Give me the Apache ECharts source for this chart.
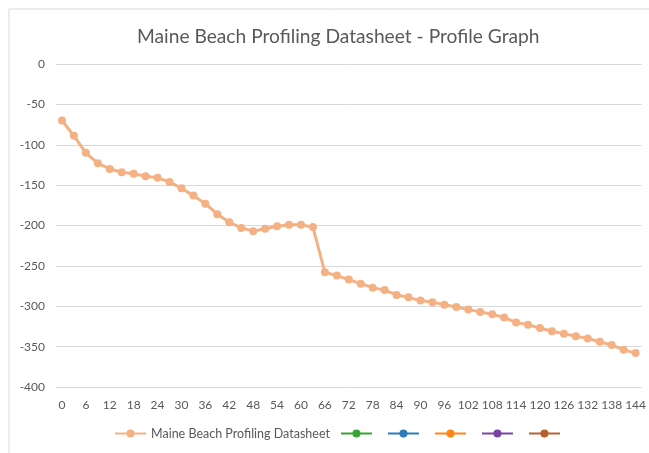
<!DOCTYPE html>
<html>
<head>
<meta charset="utf-8">
<script src="https://cdn.jsdelivr.net/npm/echarts@6/dist/echarts.min.js"></script>
<style>
  html, body { margin: 0; padding: 0; background: #fff; }
  #chart { width: 649px; height: 453px; }
</style>
</head>
<body>
<div id="chart"></div>
<script>
// distance along the profile (every 3 units)
const distances = [0, 3, 6, 9, 12, 15, 18, 21, 24, 27, 30, 33, 36, 39, 42, 45, 48, 51, 54, 57, 60, 63,
  66, 69, 72, 75, 78, 81, 84, 87, 90, 93, 96, 99, 102, 105, 108, 111, 114, 117, 120, 123, 126, 129,
  132, 135, 138, 141, 144]
// elevation readings
const elevation = [-70, -89, -110, -123, -130, -134, -136, -139, -141, -146, -154, -163, -173, -186,
  -196, -203, -207, -204, -201, -199, -199, -202,
  -258, -262, -267, -272, -277, -280, -286, -289, -293, -295, -298, -301, -304, -307, -310, -314,
  -320, -323, -327, -331, -334, -337, -340, -344, -348, -354, -358]
const yTicks = [0, -50, -100, -150, -200, -250, -300, -350, -400]
const mainName = 'Maine Beach Profiling Datasheet'
// empty series from the sheet, only visible in the legend
const emptyColors = ['#3aa335', '#2b7bba', '#ff8517', '#7b42a8', '#b5602f']

const chart = echarts.init(document.getElementById('chart'))
const textColor = '#595959'
const font = 'Lato, "Liberation Sans", sans-serif'

const emptySeries = emptyColors.map((c, i) => ({
  name: '\u200b'.repeat(i + 1),
  type: 'line',
  data: distances.map(() => null),
  symbol: 'circle',
  symbolSize: 8,
  itemStyle: { color: c },
  lineStyle: { color: c, width: 3 }
}))

const option = {
  animation: false,
  textStyle: { fontFamily: font },
  graphic: [
    {
      type: 'rect',
      shape: { x: 9, y: 9, width: 700, height: 500 },
      style: { fill: 'none', stroke: '#d9d9d9', lineWidth: 1 }
    }
  ],
  title: {
    text: 'Maine Beach Profiling Datasheet - Profile Graph',
    left: 132,
    top: 22,
    textStyle: { color: textColor, fontSize: 19.2, fontWeight: 'normal', fontFamily: font }
  },
  legend: {
    bottom: 8,
    left: 109,
    itemWidth: 31,
    itemHeight: 10,
    itemGap: 10,
    textStyle: { color: textColor, fontSize: 12.5, fontFamily: font },
    data: [mainName].concat(emptySeries.map(s => s.name))
  },
  grid: { left: 56, right: 6, top: 64, bottom: 66 },
  xAxis: {
    type: 'category',
    data: distances,
    boundaryGap: true,
    axisLine: { show: false },
    axisTick: { show: false },
    axisLabel: { interval: 1, color: textColor, fontSize: 12, margin: 12, fontFamily: font }
  },
  yAxis: {
    type: 'value',
    min: yTicks[yTicks.length - 1],
    max: yTicks[0],
    interval: 50,
    axisLine: { show: false },
    axisTick: { show: false },
    axisLabel: { color: textColor, fontSize: 12, margin: 11, fontFamily: font },
    splitLine: { lineStyle: { color: '#d9d9d9', width: 1 } }
  },
  series: [
    {
      name: mainName,
      type: 'line',
      data: elevation,
      symbol: 'circle',
      symbolSize: 8,
      showAllSymbol: true,
      itemStyle: { color: '#f4b183' },
      lineStyle: { color: '#f4b183', width: 3 }
    }
  ].concat(emptySeries)
}

chart.setOption(option)
</script>
</body>
</html>
